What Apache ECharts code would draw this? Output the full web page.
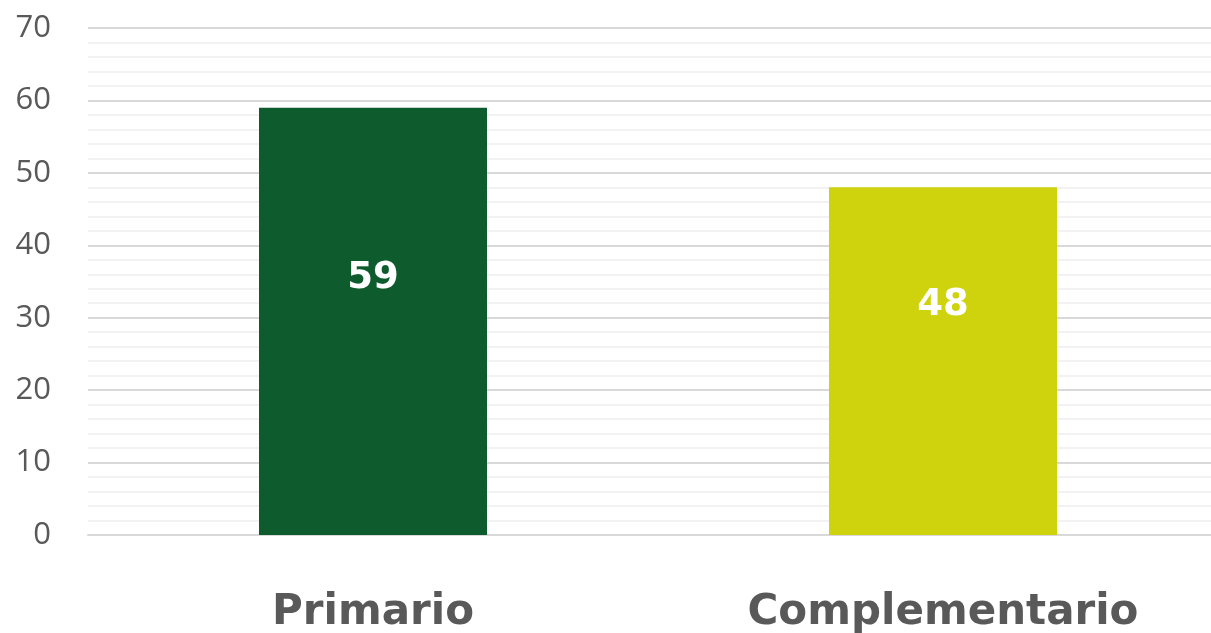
<!DOCTYPE html>
<html>
<head>
<meta charset="utf-8">
<script src="https://cdn.jsdelivr.net/npm/echarts@6/dist/echarts.min.js"></script>
<style>
  html, body { margin: 0; padding: 0; background: #fff; }
  #container { width: 1211px; height: 633px; }
</style>
</head>
<body>
<div id="container"></div>
<script>
// data
const categories = ['Primario', 'Complementario']
const values = [59, 48]
const barColors = ['#0E5C2E', '#CED30E']
const labelPos = [['50%', '40%'], ['50%', '34%']]

let seriesData = values.map((v, i) => ({
    value: v,
    itemStyle: { color: barColors[i] },
    label: { position: labelPos[i] }
}))

let mychart = echarts.init(document.getElementById('container'))
mychart.setOption({
    animation: false,
    grid: {
        left: 88,
        width: 1140,
        top: 28,
        bottom: 98,
        outerBoundsMode: 'none'
    },
    xAxis: {
        type: 'category',
        data: categories,
        axisLine: { lineStyle: { color: '#D9D9D9', width: 2 } },
        axisTick: { show: false },
        axisLabel: {
            margin: 57,
            verticalAlign: 'top',
            color: '#595959',
            fontFamily: 'DejaVu Sans',
            fontWeight: 'bold',
            fontSize: 42
        }
    },
    yAxis: {
        type: 'value',
        min: 0,
        max: 70,
        interval: 10,
        axisLine: { show: false },
        axisTick: { show: false },
        axisLabel: {
            margin: 37,
            color: '#595959',
            fontFamily: 'Open Sans',
            fontSize: 31
        },
        splitLine: { lineStyle: { color: '#D9D9D9', width: 2 } },
        minorTick: { show: false, splitNumber: 5 },
        minorSplitLine: { show: true, lineStyle: { color: '#F2F2F2', width: 2 } }
    },
    series: [
        {
            type: 'bar',
            data: seriesData,
            barWidth: '40%',
            label: {
                show: true,
                color: '#fff',
                fontFamily: 'DejaVu Sans',
                fontWeight: 'bold',
                fontSize: 37,
                align: 'center',
                verticalAlign: 'middle'
            }
        }
    ]
})

window.addEventListener('resize', () => { mychart.resize() })
</script>
</body>
</html>
